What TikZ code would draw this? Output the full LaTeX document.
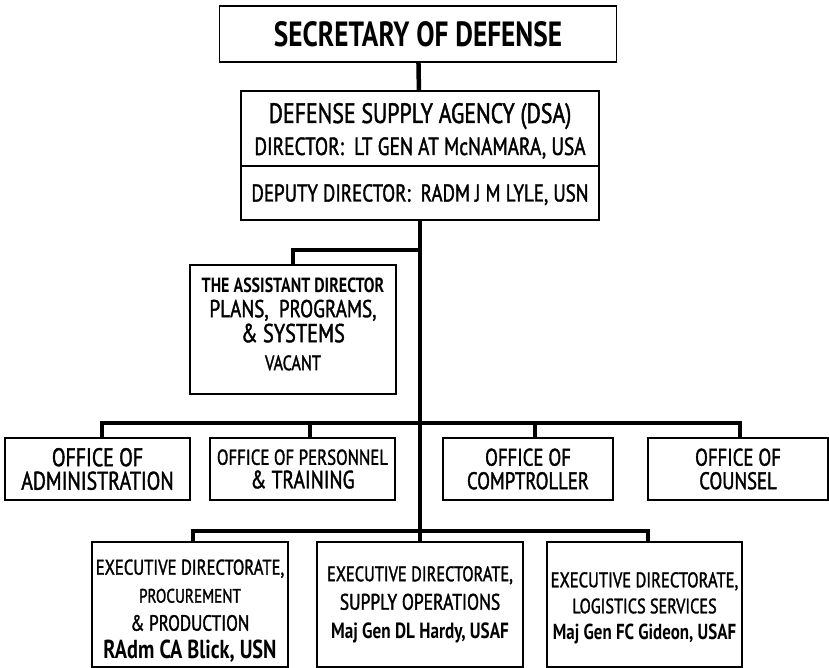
\documentclass[tikz,border=0pt]{standalone}
\usepackage{fontspec}
\setmainfont{PT Sans}[FakeStretch=0.78, UprightFeatures={FakeBold=1.5}]
\newcommand{\fs}[2]{\fontsize{#1}{#2}\selectfont}

\begin{document}
\begin{tikzpicture}[x=1pt, y=-1pt, line join=miter,
  box/.style={draw, line width=1.6pt, inner sep=0pt, align=center},
  link/.style={line width=4.5pt}]
\useasboundingbox (0,0) rectangle (829,668);
% top of the chain
\node[box, minimum width=397pt, minimum height=56pt, font=\bfseries\fs{35}{36}] (sec) at (418,34) {SECRETARY OF DEFENSE};
\node[box, minimum width=358pt, minimum height=129pt] (dsa) at (420,155.5) {};
\node[anchor=base, inner sep=0pt, font=\fs{28}{28}] (dsaname) at (420,123) {DEFENSE SUPPLY AGENCY (DSA)};
\node[anchor=base, inner sep=0pt, font=\fs{24.8}{26}] (dsadir) at (420,155) {DIRECTOR:\ \ LT GEN AT McNAMARA, USA};
\node[anchor=base, inner sep=0pt, font=\fs{24.3}{26}] (dsadep) at (420,201.5) {DEPUTY DIRECTOR:\ \ RADM J M LYLE, USN};
\draw[line width=1.4pt] (dsa.west |- 0,166) -- (dsa.east |- 0,166);
% staff
\node[box, minimum width=206pt, minimum height=129pt] (asst) at (293,329.5) {};
\node[inner sep=0pt, align=center, font=\fs{24}{25}] (asstlabel) at (293,324)
  {{\bfseries\fs{20.5}{25}THE ASSISTANT DIRECTOR}\\ {\fs{24.5}{25}PLANS,\ \ PROGRAMS,}\\ {\fs{26}{25}\& SYSTEMS}\\[3pt] {\fs{20.8}{25}VACANT}};
% offices
\node[box, minimum width=185pt, minimum height=62pt, font=\fs{25.5}{23.5}] (admin) at (97.5,469) {OFFICE OF\\ ADMINISTRATION};
\node[box, minimum width=185pt, minimum height=62pt, font=\fs{23}{23.5}] (pers) at (302.5,469) {{\fs{21.6}{23.5}OFFICE OF PERSONNEL}\\ {\fs{25}{23.5}\& TRAINING}};
\node[box, minimum width=170pt, minimum height=62pt, font=\fs{24}{23.5}] (comp) at (528,469) {OFFICE OF\\ COMPTROLLER};
\node[box, minimum width=180pt, minimum height=62pt, font=\fs{24}{23.5}] (couns) at (738,469) {OFFICE OF\\ COUNSEL};
% executive directorates
\node[box, minimum width=196pt, minimum height=125pt] (procure) at (190,604.5) {};
\node[inner sep=0pt, align=center, font=\fs{21}{28}] (procurelabel) at (190,611)
  {{\fs{21.3}{28}EXECUTIVE DIRECTORATE,}\\ {\fs{19.5}{28}PROCUREMENT}\\ {\fs{22}{28}\& PRODUCTION}\\ {\bfseries\fs{26}{28}RAdm CA Blick, USN}};
\node[box, minimum width=206pt, minimum height=125pt, font=\fs{21}{28.5}] (supply) at (420,604.5)
  {{\fs{21}{28.5}EXECUTIVE DIRECTORATE,}\\ {\fs{22.5}{28.5}SUPPLY OPERATIONS}\\ {\bfseries\fs{22}{28.5}Maj Gen DL Hardy, USAF}};
\node[box, minimum width=195pt, minimum height=125pt] (logist) at (644.5,604.5) {};
\node[inner sep=0pt, align=center, font=\fs{21}{26}] (logistlabel) at (644.5,608)
  {{\fs{21.2}{26}EXECUTIVE DIRECTORATE,}\\ {\fs{20.8}{26}LOGISTICS SERVICES}\\ {\bfseries\fs{21.7}{26}Maj Gen FC Gideon, USAF}};
% connectors
\coordinate (asstjoin) at (420,250);
\coordinate (admindrop) at (102,423);
\coordinate (persdrop) at (310,423);
\coordinate (compdrop) at (535,423);
\coordinate (counsdrop) at (740,423);
\coordinate (procdrop) at (193,531);
\coordinate (logdrop) at (648,531);
\draw[link] (sec) -- (dsa);
\draw[link] (dsa.south) -- (supply.north);
\draw[link] (asstjoin) -| (asst.north);
\draw[link] (admindrop |- admin.north) -- (admindrop) -- (counsdrop) -- (counsdrop |- couns.north);
\draw[link] (persdrop) -- (persdrop |- pers.north);
\draw[link] (compdrop) -- (compdrop |- comp.north);
\draw[link] (procdrop |- procure.north) -- (procdrop) -- (logdrop) -- (logdrop |- logist.north);
\end{tikzpicture}
\end{document}
